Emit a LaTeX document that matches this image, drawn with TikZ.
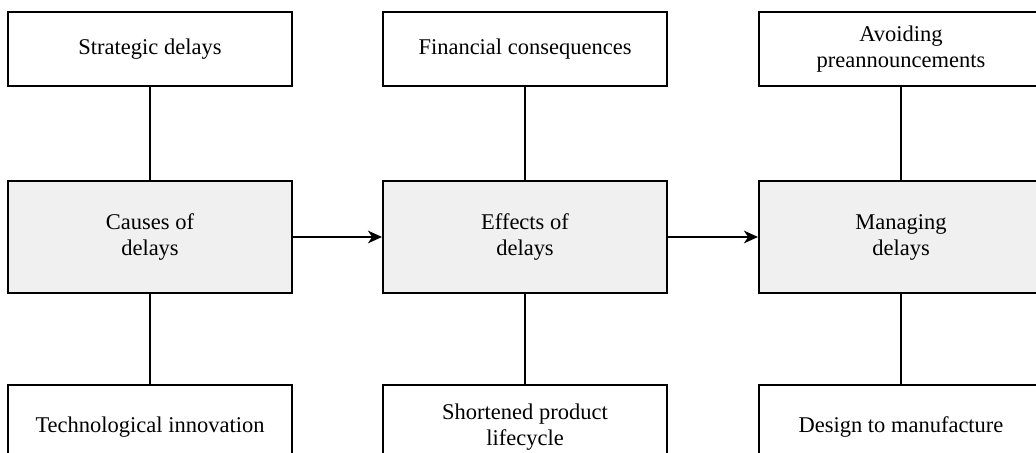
\documentclass[tikz,border=0pt]{standalone}
\usepackage{fontspec}
\setmainfont{Liberation Serif}
\usetikzlibrary{arrows.meta}
\tikzset{>={Stealth[length=10pt,width=9pt,inset=3pt]}}
\usetikzlibrary{shapes,positioning}
\colorlet{background}{white}
\colorlet{penColor}{black}
\colorlet{fill1}{black!6}
\tikzset{
  sidebox/.style={draw=penColor, line width=1.4pt, fill=background, minimum width=7.1cm,
    minimum height=1.85cm, align=center, font=\fontsize{16}{18.5}\selectfont},
  mainbox/.style={sidebox, fill=fill1, minimum height=2.8cm},
  link/.style={penColor, line width=1.2pt}
}
\begin{document}
\begin{tikzpicture}
    \clip (0,0) rectangle (25.9,11.325);
    %\draw[red] (0,0) rectangle (25.9,11.325);
      \node[mainbox] (causes) at (3.75,5.4) {Causes of\\delays};
      \node[mainbox] (effects) at (13.125,5.4) {Effects of\\delays};
      \node[mainbox] (managing) at (22.525,5.4) {Managing\\delays};
      % top row
      \node[sidebox] (strategic) at (3.75,10.1) {Strategic delays};
      \node[sidebox] (financial) at (13.125,10.1) {Financial consequences};
      \node[sidebox] (avoiding) at (22.525,10.1) {Avoiding\\preannouncements};
      % bottom row
      \node[sidebox, minimum height=2.1cm] (techno) at (3.75,0.65) {Technological innovation};
      \node[sidebox, minimum height=2.1cm] (shortened) at (13.125,0.65) {Shortened product\\lifecycle};
      \node[sidebox, minimum height=2.1cm] (design) at (22.525,0.65) {Design to manufacture};
      \draw[link] (strategic) -- (causes);
      \draw[link] (causes) -- (techno);
      \draw[link] (financial) -- (effects);
      \draw[link] (effects) -- (shortened);
      \draw[link] (avoiding) -- (managing);
      \draw[link] (managing) -- (design);
      \draw[link,->] (causes) -- (effects);
        \draw[link,->] (effects) -- (managing);
    \end{tikzpicture}
\end{document}
